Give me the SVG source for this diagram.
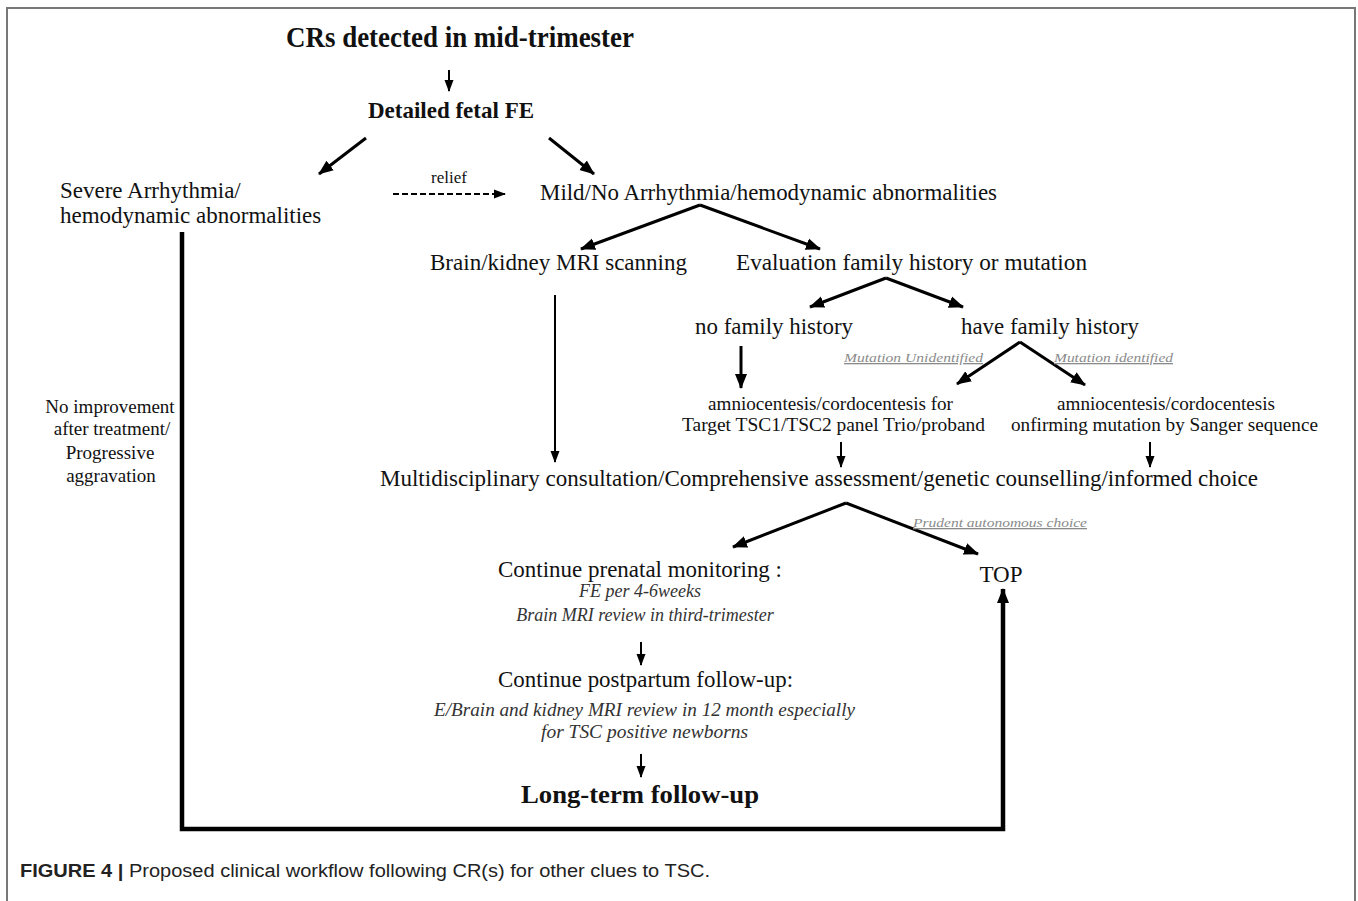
<svg xmlns="http://www.w3.org/2000/svg" width="1358" height="901" viewBox="0 0 1358 901">
<defs>
<marker id="ah" markerUnits="userSpaceOnUse" markerWidth="16" markerHeight="14" refX="14" refY="7" orient="auto">
<path d="M0,1 L15,7 L0,13 z" fill="#000"/>
</marker>
<marker id="ahs" markerUnits="userSpaceOnUse" markerWidth="12" markerHeight="10" refX="11" refY="5" orient="auto">
<path d="M0,0.5 L12,5 L0,9.5 z" fill="#000"/>
</marker>
</defs>
<style>
text{font-family:"Liberation Serif","Times New Roman",serif;fill:#111}
.b{font-weight:bold}
.r{font-size:23px}
.s{font-size:19px}
.i{font-style:italic;font-size:18px;fill:#333}
.g{font-style:italic;font-size:13px;fill:#8a8a8a;text-decoration:underline}
.c{text-anchor:middle}
.ln{stroke:#000;stroke-width:3;fill:none}
.sm{stroke:#000;stroke-width:2;fill:none}
.thick{stroke:#000;stroke-width:4.5;fill:none}
.frame{stroke:#777;stroke-width:2;fill:none}
.cap{font-family:"Liberation Sans",Arial,sans-serif;font-size:18px;fill:#222}
</style>
<rect width="1358" height="901" fill="#fff"/>
<path class="frame" d="M7,901 V8 H1355 V901"/>

<g id="connectors">
<line class="sm" x1="449" y1="70" x2="449" y2="91" marker-end="url(#ahs)"/>
<line class="ln" x1="366" y1="138" x2="319" y2="174" marker-end="url(#ah)"/>
<line class="ln" x1="549" y1="138" x2="594" y2="174" marker-end="url(#ah)"/>
<line class="sm" x1="393" y1="194" x2="505" y2="194" stroke-width="2.5" stroke-dasharray="6,3" marker-end="url(#ahs)"/>
<line class="ln" x1="700" y1="205" x2="581" y2="249" marker-end="url(#ah)"/>
<line class="ln" x1="700" y1="205" x2="820" y2="249" marker-end="url(#ah)"/>
<line class="ln" x1="886" y1="278" x2="810" y2="307" marker-end="url(#ah)"/>
<line class="ln" x1="886" y1="278" x2="963" y2="307" marker-end="url(#ah)"/>
<line class="ln" x1="741" y1="346" x2="741" y2="388" marker-end="url(#ah)"/>
<line class="ln" x1="1020" y1="342" x2="957" y2="384" marker-end="url(#ah)"/>
<line class="ln" x1="1020" y1="342" x2="1085" y2="385" marker-end="url(#ah)"/>
<line class="sm" x1="555" y1="295" x2="555" y2="462" marker-end="url(#ahs)"/>
<line class="sm" x1="841" y1="442" x2="841" y2="467" marker-end="url(#ahs)"/>
<line class="sm" x1="1150" y1="442" x2="1150" y2="467" marker-end="url(#ahs)"/>
<line class="ln" x1="846" y1="503" x2="733" y2="547" marker-end="url(#ah)"/>
<line class="ln" x1="846" y1="503" x2="978" y2="554" marker-end="url(#ah)"/>
<line class="sm" x1="641" y1="642" x2="641" y2="665" marker-end="url(#ahs)"/>
<line class="sm" x1="641" y1="754" x2="641" y2="777" marker-end="url(#ahs)"/>
<path class="thick" d="M182,232 V829 H1003 V589" marker-end="url(#ah)"/>
</g>

<g id="n-title"><text class="b" x="286" y="47" font-size="30" textLength="348" lengthAdjust="spacingAndGlyphs">CRs detected in mid-trimester</text></g>
<g id="n-fe"><text class="b c" x="451" y="118" font-size="23">Detailed fetal FE</text></g>
<g id="n-severe">
<text class="r" x="60" y="198">Severe Arrhythmia/</text>
<text class="r" x="60" y="223">hemodynamic abnormalities</text>
</g>
<g id="l-relief"><text class="c" x="449" y="183" font-size="17">relief</text></g>
<g id="n-mild"><text class="r" x="540" y="200" textLength="457" lengthAdjust="spacingAndGlyphs">Mild/No Arrhythmia/hemodynamic abnormalities</text></g>
<g id="n-mri"><text class="r" x="430" y="270" textLength="257" lengthAdjust="spacingAndGlyphs">Brain/kidney MRI scanning</text></g>
<g id="n-eval"><text class="r" x="736" y="270" textLength="351" lengthAdjust="spacingAndGlyphs">Evaluation family history or mutation</text></g>
<g id="n-nofam"><text class="r" x="695" y="334" textLength="158" lengthAdjust="spacingAndGlyphs">no family history</text></g>
<g id="n-havefam"><text class="r" x="961" y="334" textLength="178" lengthAdjust="spacingAndGlyphs">have family history</text></g>
<g id="l-unid"><text class="g" x="844" y="362" textLength="139" lengthAdjust="spacingAndGlyphs">Mutation Unidentified</text></g>
<g id="l-id"><text class="g" x="1054" y="362" textLength="119" lengthAdjust="spacingAndGlyphs">Mutation identified</text></g>
<g id="n-amnio1">
<text class="s" x="708" y="410" textLength="245" lengthAdjust="spacingAndGlyphs">amniocentesis/cordocentesis for</text>
<text class="s" x="682" y="431" textLength="303" lengthAdjust="spacingAndGlyphs">Target TSC1/TSC2 panel Trio/proband</text>
</g>
<g id="n-amnio2">
<text class="s" x="1057" y="410" textLength="218" lengthAdjust="spacingAndGlyphs">amniocentesis/cordocentesis</text>
<text class="s" x="1011" y="431" textLength="307" lengthAdjust="spacingAndGlyphs">onfirming mutation by Sanger sequence</text>
</g>
<g id="n-multi"><text class="r" x="380" y="486" font-size="22" textLength="878" lengthAdjust="spacingAndGlyphs">Multidisciplinary consultation/Comprehensive assessment/genetic counselling/informed choice</text></g>
<g id="l-prudent"><text class="g" x="913" y="527" textLength="174" lengthAdjust="spacingAndGlyphs">Prudent autonomous choice</text></g>
<g id="n-prenatal">
<text class="r" x="498" y="577" textLength="284" lengthAdjust="spacingAndGlyphs">Continue prenatal monitoring :</text>
<text class="i c" x="640" y="597">FE per 4-6weeks</text>
<text class="i c" x="645" y="621">Brain MRI review in third-trimester</text>
</g>
<g id="n-top"><text class="r c" x="1001" y="582">TOP</text></g>
<g id="n-postpartum">
<text class="r" x="498" y="687" textLength="295" lengthAdjust="spacingAndGlyphs">Continue postpartum follow-up:</text>
<text class="i" x="434" y="716" textLength="421" lengthAdjust="spacingAndGlyphs">E/Brain and kidney MRI review in 12 month especially</text>
<text class="i" x="541" y="738" textLength="207" lengthAdjust="spacingAndGlyphs">for TSC positive newborns</text>
</g>
<g id="n-longterm"><text class="b" x="521" y="803" font-size="25" textLength="238" lengthAdjust="spacingAndGlyphs">Long-term follow-up</text></g>
<g id="l-noimp">
<text class="s c" x="110" y="413">No improvement</text>
<text class="s c" x="112" y="435">after treatment/</text>
<text class="s c" x="110" y="459">Progressive</text>
<text class="s c" x="111" y="482">aggravation</text>
</g>
<g id="caption"><text class="cap" x="20" y="877" textLength="690" lengthAdjust="spacingAndGlyphs"><tspan font-weight="bold">FIGURE 4 |</tspan> Proposed clinical workflow following CR(s) for other clues to TSC.</text></g>
</svg>
